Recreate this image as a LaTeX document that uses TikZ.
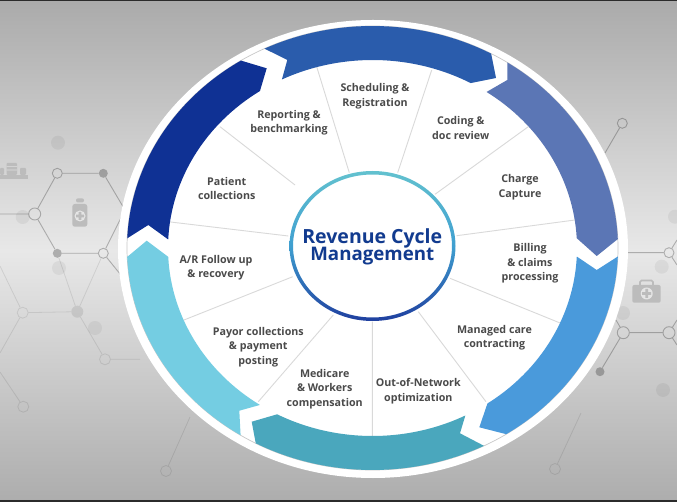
\documentclass[tikz,border=0pt]{standalone}
\usepackage{fontspec}
\setmainfont{Open Sans}
\usetikzlibrary{calc}
\newcommand{\tightlines}{\lineskiplimit -20pt\relax}
\definecolor{seg1}{HTML}{2A5CAC}
\definecolor{seg2}{HTML}{5B76B5}
\definecolor{seg3}{HTML}{4A9ADB}
\definecolor{seg4}{HTML}{4AA7BD}
\definecolor{seg5}{HTML}{74CDE2}
\definecolor{seg6}{HTML}{0F3194}
\definecolor{txt}{HTML}{4A4A4A}
\definecolor{ttl}{HTML}{123B8F}
\definecolor{icon}{HTML}{BCBCBC}
\definecolor{HubTop}{HTML}{62C1CF}
\definecolor{HubMid}{HTML}{3F9FD0}
\definecolor{HubBot}{HTML}{1F3F9F}
\tikzset{
  lab/.style={font=\fontsize{10.7}{14.4}\selectfont\bfseries\tightlines,text=txt,align=center,inner sep=0pt},
  ttlnode/.style={font=\fontsize{19.5}{17.6}\selectfont\bfseries\tightlines,text=ttl,align=center,inner sep=0pt},
  spoke/.style={draw=black!15,line width=0.9pt},
  hexs/.style={draw=black,draw opacity=0.25,line width=0.9pt},
  hexf/.style={draw=black,draw opacity=0.09,line width=0.8pt},
  os/.style={circle,draw=black,draw opacity=0.25,line width=0.9pt,minimum size=10pt,inner sep=0pt},
  ol/.style={circle,draw=black,draw opacity=0.25,line width=0.9pt,minimum size=12pt,inner sep=0pt},
  fs/.style={circle,fill=black,fill opacity=0.25,text opacity=1,minimum size=9pt,inner sep=0pt},
  of/.style={circle,draw=black,draw opacity=0.09,line width=0.8pt,minimum size=11pt,inner sep=0pt},
  ff/.style={circle,fill=black,fill opacity=0.09,text opacity=1,minimum size=12pt,inner sep=0pt},
  ghost/.style={circle,fill=black,fill opacity=0.05,text opacity=1,minimum size=14pt,inner sep=0pt}
}
% colour, outer start, notch, inner start, inner end, tip, outer end
\newcommand{\segshape}[7]{%
  \fill[#1] ($(C)+(#2:245.5 and 222)$) -- #3 -- ($(C)+(#4:204.5 and 188)$)
    arc[start angle=#4,end angle=#5,x radius=204.5,y radius=188]
    -- #6 -- ($(C)+(#7:245.5 and 222)$)
    arc[start angle=#7,end angle=#2,x radius=245.5,y radius=222] -- cycle;}
\begin{document}
\begin{tikzpicture}[x=1pt,y=-1pt]
\useasboundingbox (0,0) rectangle (677,502);
% background
\fill[black!83] (0,0) rectangle (677,502);
\shade[top color=black!33,bottom color=black!32,middle color=black!9] (0,2) rectangle (677,499);
% network, left
\node[ghost] (g1) at (58,142.7) {};
\node[ghost] (g2) at (22.7,217) {};
\node[ghost] (g3) at (59,268) {};
\node[ghost] (g4) at (95,328) {};
\node[os] (a1) at (57.3,173.3) {};
\node[fs] (a2) at (103.3,173.3) {};
\coordinate (a3) at (125,210);
\node[os] (a4) at (103.3,253.3) {};
\node[fs] (a5) at (57.3,253.3) {};
\node[ol] (a6) at (34.7,214) {};
\coordinate (a7) at (0,214);
\coordinate (a8) at (125,280);
\draw[hexs] (a1)--(a2)--(a3) (a3)--(a4)--(a5)--(a6)--(a1) (a6)--(a7) (a4)--(a8);
\node[of] (b1) at (22.7,312.7) {};
\node[ff] (b2) at (77.3,311.7) {};
\node[of] (b3) at (105,359.3) {};
\node[of] (b4) at (23.3,406.7) {};
\coordinate (b5) at (140,359.3);
\coordinate (b6) at (0,266);
\coordinate (b7) at (0,353);
\coordinate (b8) at (0,372);
\draw[hexf] (b1)--(b2) (a4)--(b2) (a5)--(b2) (b2)--(b3)--(b5) (b6)--(b1)--(b7) (b8)--(b4);
\node[of] (b9) at (166,471) {};
\coordinate (b10) at (190,417);
\draw[hexf] (b9)--(b10);
% network, right
\node[ghost] (h1) at (675,216.7) {};
\node[ghost] (h2) at (661.7,266.7) {};
\node[ghost] (h3) at (623,313) {};
\node[ghost] (h4) at (663,390) {};
\node[os] (d1) at (622.3,123.3) {};
\coordinate (d2) at (605,153);
\node[os] (d3) at (669,252.7) {};
\coordinate (d4) at (628,252.7);
\coordinate (d5) at (677,240);
\coordinate (d6) at (677,265);
\node[ol] (d7) at (623.3,332.7) {};
\node[ol] (d8) at (669,332.7) {};
\node[fs] (d9) at (600,371.7) {};
\coordinate (d10) at (616,320);
\coordinate (d11) at (677,320);
\coordinate (d12) at (677,345);
\draw[hexs] (d1)--(d2) (d4)--(d3) (d5)--(d3)--(d6) (d7)--(d8) (d7)--(d9) (d7)--(d10) (d11)--(d8)--(d12);
\node[of] (d13) at (555,469) {};
\coordinate (d14) at (581,413);
\draw[hexf] (d13)--(d14);
% icons
\fill[icon,rounded corners=2pt] (76,198.3) rectangle (84,202.5);
\fill[icon,rounded corners=2.5pt] (72.3,204) rectangle (87.3,226.7);
\fill[black!10] (80,216) circle[radius=5.5];
\fill[icon] (78.7,212) rectangle (81.3,220) (76,214.7) rectangle (84,217.3);
\draw[icon,line width=1.6pt,rounded corners=1.5pt] (640,285) -- (640,280.5) -- (653,280.5) -- (653,285);
\fill[icon,rounded corners=2pt] (632.3,285) rectangle (660.7,302.7);
\fill[black!10] (646.7,293.5) circle[radius=6];
\fill[icon] (645.3,289) rectangle (648.1,298) (642.2,292.1) rectangle (651.2,294.9);
\fill[icon] (0,175.5) rectangle (28,178.8);
\fill[icon,rounded corners=1pt] (6.5,163) rectangle (17,175);
\fill[icon,rounded corners=1pt] (0,168) rectangle (4,175) (20,168) rectangle (26,175);
\fill[black!12] (6.5,166.3) rectangle (17,167) (6.5,169.6) rectangle (17,170.3);
% main disc
\coordinate (C) at (372.5,248);
\fill[white] (373,249) ellipse[x radius=255,y radius=229];
\draw[black!22,line width=0.7pt] (C) ellipse[x radius=245.5,y radius=222];
% spokes
\coordinate (s1a) at (349.3,172.7); \coordinate (s1b) at (316.7,66.7);
\coordinate (s2a) at (397.7,172.7); \coordinate (s2b) at (431.7,70);
\coordinate (s3a) at (435,194.3);   \coordinate (s3b) at (528.3,126.7);
\coordinate (s4a) at (456.7,235.7); \coordinate (s4b) at (575,220);
\coordinate (s5a) at (450,278.3);   \coordinate (s5b) at (565,325);
\coordinate (s6a) at (418.3,311.7); \coordinate (s6b) at (486,401.7);
\coordinate (s7a) at (372.3,321.7); \coordinate (s7b) at (372.3,436.7);
\coordinate (s8a) at (333.3,315);   \coordinate (s8b) at (258.3,401.7);
\coordinate (s9a) at (292.7,276.7); \coordinate (s9b) at (184,320);
\coordinate (s10a) at (288.3,236);  \coordinate (s10b) at (168,221.7);
\coordinate (s11a) at (295,185);    \coordinate (s11b) at (220,126.7);
\draw[spoke] (s1a)--(s1b) (s2a)--(s2b) (s3a)--(s3b) (s4a)--(s4b) (s5a)--(s5b) (s6a)--(s6b) (s7a)--(s7b) (s8a)--(s8b) (s9a)--(s9b) (s10a)--(s10b) (s11a)--(s11b);
% arrow band
\segshape{seg1}{-116.1}{(287.3,60)}{-116.3}{-61.3}{(496,78)}{-61.1}
\segshape{seg2}{-56.7}{(507.3,80)}{-56.1}{-3}{(596.7,256)}{-2.3}
\segshape{seg3}{2.2}{(596.7,270)}{2.6}{55.8}{(479.3,427.3)}{57}
\segshape{seg4}{63}{(460,433.3)}{63}{117.8}{(251.7,421.7)}{118.4}
\segshape{seg5}{122.5}{(239.3,410.7)}{123.4}{177.3}{(146.7,240.7)}{177.7}
\segshape{seg6}{182.5}{(148.3,225)}{182.6}{236.6}{(266.7,68.3)}{237.6}
% centre ring
\fill[white] (372.5,246) ellipse[x radius=83,y radius=75];
\shade[even odd rule,top color=HubTop,bottom color=HubBot,middle color=HubMid]
  (372.5,246) ellipse[x radius=83,y radius=75] (372.5,246) ellipse[x radius=79.5,y radius=71.5];
% texts
\node[ttlnode] (title) at (372.3,247) {Revenue Cycle\\\fontsize{18.7}{17.6}\selectfont Management};
\node[lab] (l1) at (375,96.3) {Scheduling \&\\Registration};
\node[lab] (l2) at (460.7,128) {Coding \&\\doc review};
\node[lab] (l3) at (520,187.3) {Charge\\Capture};
\node[lab] (l4) at (530,263.5) {Billing\\\& claims\\processing};
\node[lab] (l5) at (494.5,338) {Managed care\\contracting};
\node[lab] (l6) at (418.3,391) {Out-of-Network\\optimization};
\node[lab] (l7) at (324.7,389) {Medicare\\\& Workers\\compensation};
\node[lab] (l8) at (258.3,347) {Payor collections\\\& payment\\posting};
\node[lab] (l9) at (216,267.5) {A/R Follow up\\\& recovery};
\node[lab] (l10) at (226.7,188.2) {Patient\\collections};
\node[lab] (l11) at (289,123) {Reporting \&\\benchmarking};
\end{tikzpicture}
\end{document}
